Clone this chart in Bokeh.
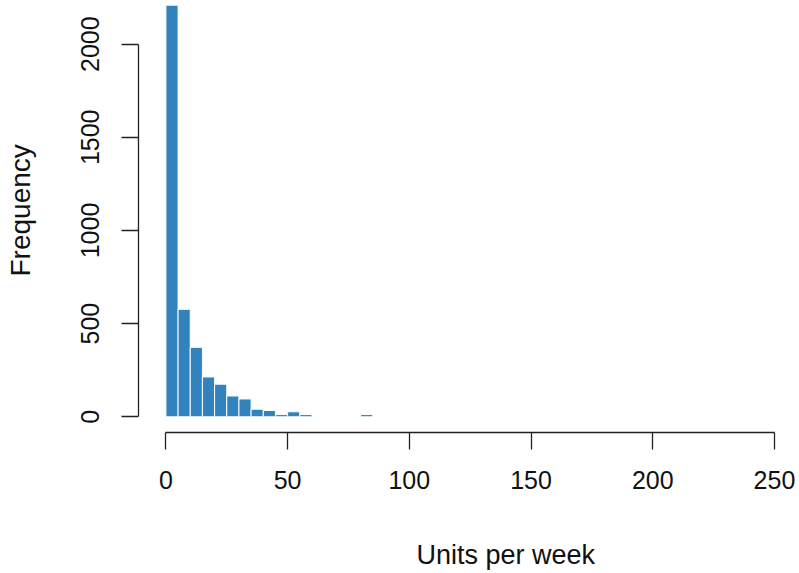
import math
from bokeh.plotting import figure
from bokeh.models import Range1d, FixedTicker, ColumnDataSource, Title
from bokeh.embed import file_html
from bokeh.resources import INLINE

# Histogram data: bin edges (width 5) and counts
bin_width = 5
bin_starts = list(range(0, 250, 5))
counts = [2209, 577, 373, 214, 175, 112, 96, 41, 34, 12,
          27, 12, 0, 0, 0, 0, 12, 0, 0, 0,
          0, 0, 0, 0, 0, 0, 0, 0, 0, 0,
          0, 0, 0, 0, 0, 0, 0, 0, 0, 0,
          0, 0, 0, 0, 0, 0, 0, 0, 0, 1]
x_ticks = [0, 50, 100, 150, 200, 250]
y_ticks = [0, 500, 1000, 1500, 2000]
x_title = "Units per week"
y_title = "Frequency"

src = ColumnDataSource(dict(
    left=bin_starts,
    right=[b + bin_width for b in bin_starts],
    top=counts,
    bottom=[0] * len(counts),
))

FONT = "Liberation Sans"
TXT = "#111111"

W, H = 796, 570
p = figure(width=W, height=H, output_backend="svg", toolbar_location=None,
           x_range=Range1d(-11.26, (W - 165.7) / 2.433),
           y_range=Range1d(-84.1, 417 / 0.18665),
           min_border_left=138, min_border_bottom=H - 433, min_border_top=0,
           min_border_right=0)
p.outline_line_color = None
p.grid.visible = False
p.background_fill_color = "white"
p.border_fill_color = "white"

p.quad(left="left", right="right", top="top", bottom="bottom", source=src,
       fill_color="#3182bd", line_color="white", line_width=1)

for ax, ticks in ((p.xaxis[0], x_ticks), (p.yaxis[0], y_ticks)):
    ax.ticker = FixedTicker(ticks=ticks)
    ax.bounds = (ticks[0], ticks[-1])
    ax.major_tick_out = 17
    ax.major_tick_in = 0
    ax.minor_tick_line_color = None
    ax.axis_line_color = "#222222"
    ax.major_tick_line_color = "#222222"
    ax.axis_line_width = 1.3
    ax.major_tick_line_width = 1.3
    ax.major_label_text_font = FONT
    ax.major_label_text_font_size = "25px"
    ax.major_label_text_color = TXT
    # blank axis label used only as spacing between tick labels and titles
    ax.axis_label = " "
    ax.axis_label_text_font_size = "10px"
    ax.axis_label_text_alpha = 0

p.xaxis.major_label_standoff = 21
p.yaxis.major_label_standoff = 22
p.yaxis.major_label_orientation = "vertical"
p.xaxis.axis_label_standoff = 31
p.yaxis.axis_label_standoff = 28

p.add_layout(Title(text=x_title, align="left", offset=278, standoff=2,
                   text_font=FONT, text_font_size="27px",
                   text_font_style="normal", text_color=TXT), "below")
p.add_layout(Title(text=y_title, align="left", offset=156, standoff=2,
                   text_font=FONT, text_font_size="28px",
                   text_font_style="normal", text_color=TXT), "left")

open("out.html", "w").write(file_html(p, INLINE))
